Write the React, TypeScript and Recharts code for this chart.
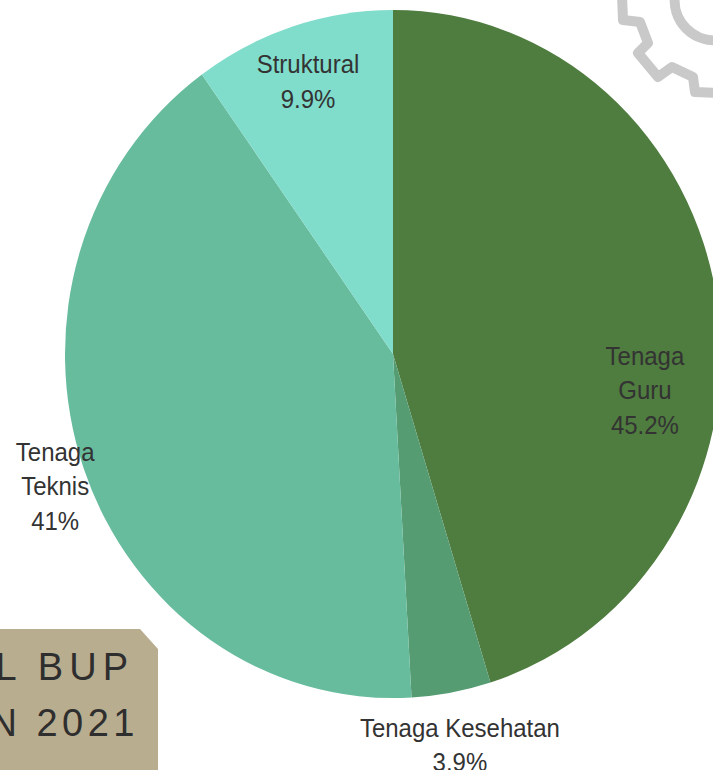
import React from "react";
import { PieChart, Pie, Cell } from "recharts";

const categories = ["Tenaga Guru", "Tenaga Kesehatan", "Tenaga Teknis", "Struktural"];
const shares = [45.2, 3.9, 41, 9.9];
const sliceColors = ["#4f7c3f", "#559c73", "#68bc9e", "#80dccb"];

// Label block centres relative to the pie centre, as a factor of the radius
const labelOffsetX = [0.768, 0.204, -1.03, -0.259];
const labelOffsetY = [0.111, 1.142, 0.39, -0.787];
// Tenaga Kesehatan stays on one line, the others wrap
const wrapLabel = [true, false, true, false];

const data = categories.map((name, i) => ({ name, value: shares[i] }));

// The source picture is stretched a little vertically, so the whole chart is too
const stretchY = 1.049;

function SliceLabel(props: any) {
  const { cx, cy, outerRadius, index } = props;
  const x = cx + outerRadius * labelOffsetX[index];
  const y = cy + outerRadius * labelOffsetY[index];
  const name = categories[index];
  const lines = wrapLabel[index] ? name.split(" ") : [name];
  lines.push(`${shares[index]}%`);
  const lineHeight = 33;
  const top = y - ((lines.length - 1) * lineHeight) / 2;
  return (
    <text x={x} y={top} textAnchor="middle" dominantBaseline="middle" fill="#333" fontSize={24} fontFamily="'Liberation Sans', Arial, sans-serif">
      {lines.map((line, i) => (
        <tspan key={i} x={x} y={top + i * lineHeight}>{line}</tspan>
      ))}
    </text>
  );
}

export default function App() {
  return (
    <div style={{ position: "absolute", left: 0, top: 0, width: 713, height: 770, overflow: "hidden", background: "#fff" }}>
      {/* gear decoration behind the chart */}
      <svg width={713} height={770} style={{ position: "absolute", left: 0, top: 0 }}>
        <path
          d="M622 -5 L623 20 L640 22 L648 43 L638 53 L658 77 L672 67 L693 77 L695 92 L720 93"
          fill="none" stroke="#c9c9c9" strokeWidth={10} strokeLinejoin="round"
        />
        <path d="M675 -5 A40 40 0 0 0 720 40" fill="none" stroke="#c9c9c9" strokeWidth={10} />
      </svg>

      {/* beige title card, cut off at the left edge */}
      <div
        style={{
          position: "absolute", left: 0, top: 629, width: 158, height: 141, background: "#b9ad8f",
          clipPath: "polygon(0 0, 140px 0, 158px 20px, 158px 100%, 0 100%)",
          fontFamily: "'Liberation Sans', Arial, sans-serif", fontSize: 38, color: "#2e2e2e",
        }}
      >
        <div style={{ position: "absolute", right: 24, top: 17, whiteSpace: "nowrap", letterSpacing: 6 }}>L BUP</div>
        <div style={{ position: "absolute", right: 19, top: 73, whiteSpace: "nowrap", letterSpacing: 4.5 }}>N 2021</div>
      </div>

      <div style={{ position: "absolute", left: 0, top: 0, transform: `scaleY(${stretchY})`, transformOrigin: "0 0" }}>
        <PieChart width={800} height={740} margin={{ top: 0, right: 0, bottom: 0, left: 0 }}>
          <Pie
            data={data}
            dataKey="value"
            nameKey="name"
            cx={393}
            cy={337.5}
            outerRadius={328}
            startAngle={90}
            endAngle={-270}
            stroke="none"
            label={SliceLabel}
            labelLine={false}
            isAnimationActive={false}
          >
            {data.map((d, i) => (
              <Cell key={d.name} fill={sliceColors[i]} />
            ))}
          </Pie>
        </PieChart>
      </div>
    </div>
  );
}
